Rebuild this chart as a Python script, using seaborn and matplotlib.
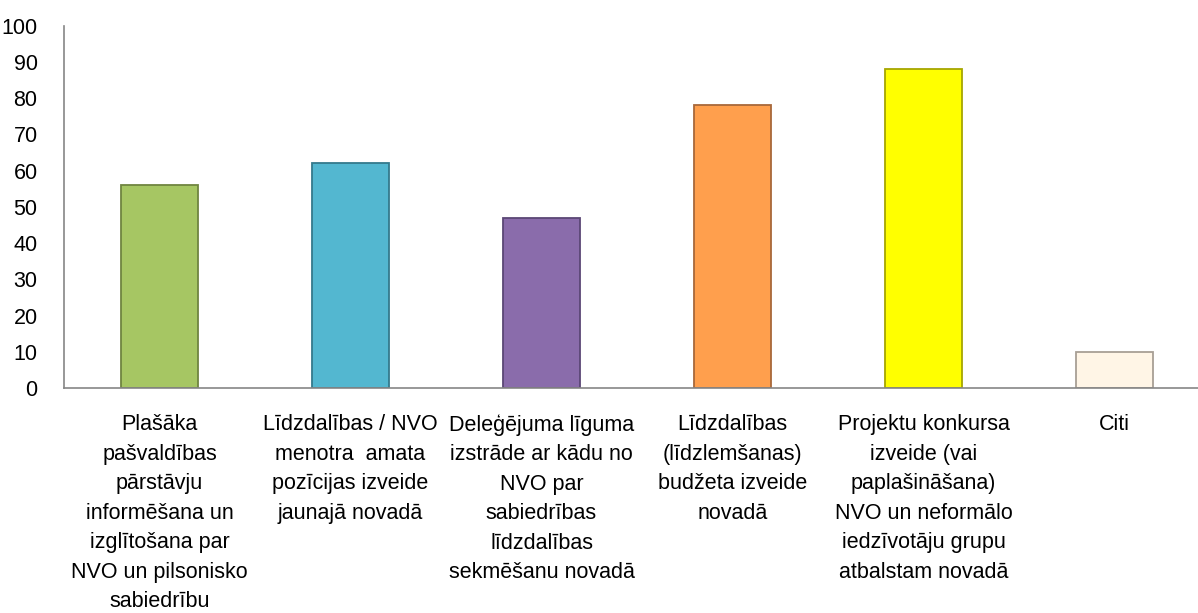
import matplotlib
matplotlib.use("Agg")
import matplotlib.pyplot as plt
import seaborn as sns
import pandas as pd
from matplotlib.ticker import FixedLocator

categories = [
    "Plašāka\npašvaldības\npārstāvju\ninformēšana un\nizglītošana par\nNVO un pilsonisko\nsabiedrību",
    "Līdzdalības / NVO\nmenotra  amata\npozīcijas izveide\njaunajā novadā",
    "Deleģējuma līguma\nizstrāde ar kādu no\nNVO par\nsabiedrības\nlīdzdalības\nsekmēšanu novadā",
    "Līdzdalības\n(līdzlemšanas)\nbudžeta izveide\nnovadā",
    "Projektu konkursa\nizveide (vai\npaplašināšana)\nNVO un neformālo\niedzīvotāju grupu\natbalstam novadā",
    "Citi",
]
values = [56, 62, 47, 78, 88, 10]
bar_colors = ["#A6C663", "#53B7D0", "#8A6CAB", "#FF9F4D", "#FFFF00", "#FFF5E6"]
edge_colors = ["#6F8540", "#347A8C", "#5B4775", "#A8683A", "#A6A600", "#A89F95"]

df = pd.DataFrame({"kategorija": categories, "vertiba": values})

sns.set_style("white")
plt.rcParams["font.family"] = ["Liberation Sans", "DejaVu Sans"]
plt.rcParams["text.color"] = "black"
plt.rcParams["xtick.labelcolor"] = "black"
plt.rcParams["ytick.labelcolor"] = "black"

fig = plt.figure(figsize=(11.98, 6.13), dpi=100)
ax = fig.add_axes([64 / 1198, 1 - 388 / 613, 1146 / 1198, (388 - 25.7) / 613])

sns.barplot(
    data=df, x="kategorija", y="vertiba", hue="kategorija",
    palette=bar_colors, legend=False, width=0.4, ax=ax,
    saturation=1,
)
# darker outline, like the bevelled bars of the original
for patch, ec in zip(ax.patches, edge_colors):
    patch.set_edgecolor(ec)
    patch.set_linewidth(1.3)

ax.set_ylim(0, 100)
ax.set_xlim(-0.5, 5.5)
ax.set_yticks(range(0, 101, 10))
ax.set_xlabel("")
ax.set_ylabel("")

# ticks on category boundaries, labels in the middle
ax.xaxis.set_minor_locator(FixedLocator([i - 0.5 for i in range(7)]))
ax.tick_params(axis="x", which="major", length=0, pad=19, labelsize=15.5)
ax.tick_params(axis="x", which="minor", length=6.5, width=1.2, color="#868686", direction="out")
ax.tick_params(axis="y", length=7, width=1.2, color="#868686", direction="out",
               pad=12, labelsize=15.5)
for lbl in ax.get_xticklabels():
    lbl.set_linespacing(1.53)
    lbl.set_va("top")

sns.despine(ax=ax)
for side in ["left", "bottom"]:
    ax.spines[side].set_color("#868686")
    ax.spines[side].set_linewidth(1.2)

fig.savefig("out.png", dpi=100)
